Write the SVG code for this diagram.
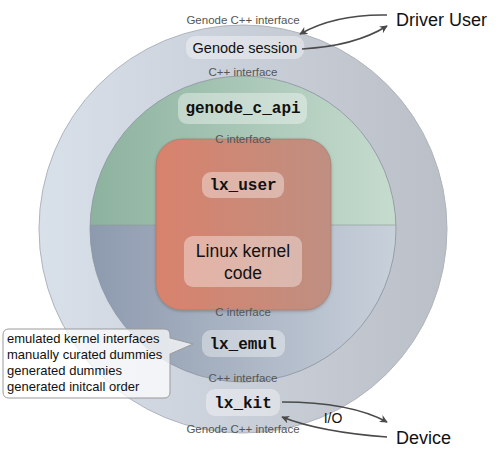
<svg xmlns="http://www.w3.org/2000/svg" width="500" height="453" viewBox="0 0 500 453">
<defs>
<linearGradient id="gOuter" x1="0" y1="0" x2="1" y2="0">
<stop offset="0" stop-color="#d8e0ea"/><stop offset="1" stop-color="#bbbfc7"/>
</linearGradient>
<linearGradient id="gGreen" x1="0" y1="0" x2="1" y2="0">
<stop offset="0" stop-color="#8cb29e"/><stop offset="1" stop-color="#c6dccf"/>
</linearGradient>
<linearGradient id="gBlue" x1="0" y1="0" x2="1" y2="0">
<stop offset="0" stop-color="#8d9aae"/><stop offset="1" stop-color="#c9d1db"/>
</linearGradient>
<linearGradient id="gRed" x1="0" y1="0" x2="1" y2="0">
<stop offset="0" stop-color="#d8826c"/><stop offset="1" stop-color="#bf8f81"/>
</linearGradient>
<clipPath id="cInner"><circle cx="243" cy="229" r="153"/></clipPath>
<marker id="ah" viewBox="0 0 10 10" refX="9" refY="5" markerWidth="8" markerHeight="8" markerUnits="userSpaceOnUse" orient="auto">
<path d="M0,0 L10,5 L0,10 L3,5 Z" fill="#4a4a4a"/>
</marker>
<filter id="sh" x="-20%" y="-20%" width="140%" height="140%">
<feDropShadow dx="0" dy="1" stdDeviation="1.5" flood-color="#000" flood-opacity="0.25"/>
</filter>
</defs>
<style>
.box{fill:#ffffff;fill-opacity:0.38}
.iface{font-family:"Liberation Sans",Arial,sans-serif;font-size:11.5px;fill:#555;text-anchor:middle}
.lbl{font-family:"Liberation Sans",Arial,sans-serif;font-size:14.5px;fill:#111;text-anchor:middle}
.mono{font-family:"Liberation Mono","DejaVu Sans Mono",monospace;font-size:16px;fill:#111;text-anchor:middle;font-weight:bold}
.big{font-family:"Liberation Sans",Arial,sans-serif;font-size:18px;fill:#111}
.call{font-family:"Liberation Sans",Arial,sans-serif;font-size:13px;fill:#111}
.arr{fill:none;stroke:#4a4a4a;stroke-width:1.6;marker-end:url(#ah)}
</style>

<g id="outer">
<circle cx="243" cy="229" r="204" fill="url(#gOuter)" stroke="#b0b4bc" stroke-width="1"/>
</g>
<g id="inner">
<g clip-path="url(#cInner)">
<rect x="88" y="74" width="312" height="151" fill="url(#gGreen)"/>
<rect x="88" y="225" width="312" height="160" fill="url(#gBlue)"/>
<line x1="88" y1="225" x2="400" y2="225" stroke="#8a9a94" stroke-width="0.6"/>
</g>
<circle cx="243" cy="229" r="153" fill="none" stroke="#8a929e" stroke-width="0.8"/>
</g>
<g id="kernel">
<rect x="156" y="139" width="175" height="171" rx="26" fill="url(#gRed)" stroke="#9a7a70" stroke-width="0.6" filter="url(#sh)"/>
</g>

<text class="iface" x="243" y="24">Genode C++ interface</text>
<g id="genode_session">
<rect class="box" x="186" y="36" width="118" height="23" rx="9"/>
<text class="lbl" x="245" y="53">Genode session</text>
</g>
<text class="iface" x="243" y="76">C++ interface</text>
<g id="genode_c_api">
<rect class="box" x="178" y="93" width="129" height="31" rx="9"/>
<text class="mono" x="243" y="113">genode_c_api</text>
</g>
<text class="iface" x="243" y="143">C interface</text>
<g id="lx_user">
<rect class="box" x="202" y="172" width="82" height="26" rx="9"/>
<text class="mono" x="243" y="190">lx_user</text>
</g>
<g id="linux_kernel_code">
<rect class="box" x="184" y="236" width="118" height="51" rx="9"/>
<text class="lbl" x="243" y="257" style="font-size:17.5px">Linux kernel</text>
<text class="lbl" x="243" y="279" style="font-size:17.5px">code</text>
</g>
<text class="iface" x="243" y="316">C interface</text>
<g id="lx_emul">
<rect class="box" x="202" y="330" width="83" height="27" rx="9"/>
<text class="mono" x="243" y="349">lx_emul</text>
</g>
<text class="iface" x="243" y="382">C++ interface</text>
<g id="lx_kit">
<rect class="box" x="206" y="389" width="74" height="27" rx="9"/>
<text class="mono" x="243" y="408">lx_kit</text>
</g>
<text class="iface" x="243" y="433">Genode C++ interface</text>

<g id="driver_user"><text class="big" x="396" y="26">Driver User</text></g>
<g id="device"><text class="big" x="396" y="444">Device</text></g>

<g id="callout">
<path d="M9,329 H164 Q170,329 170,335 V338 L193,344 L170,354 V392 Q170,398 164,398 H9 Q3,398 3,392 V335 Q3,329 9,329 Z" fill="#ffffff" fill-opacity="0.72" stroke="#9a9a9a" stroke-width="1"/>
<text class="call" x="7" y="343">emulated kernel interfaces</text>
<text class="call" x="7" y="359">manually curated dummies</text>
<text class="call" x="7" y="375">generated dummies</text>
<text class="call" x="7" y="391">generated initcall order</text>
</g>

<g id="connectors">
<path class="arr" d="M387,15 Q335,14 300,34"/>
<path class="arr" d="M302,49 Q355,46 387,26"/>
<path class="arr" d="M282,402 Q350,402 387,422"/>
<path class="arr" d="M387,437 Q320,432 282,417"/>
<text x="333" y="423" style="font-family:'Liberation Sans',Arial,sans-serif;font-size:14px;fill:#111;text-anchor:middle">I/O</text>
</g>
</svg>
